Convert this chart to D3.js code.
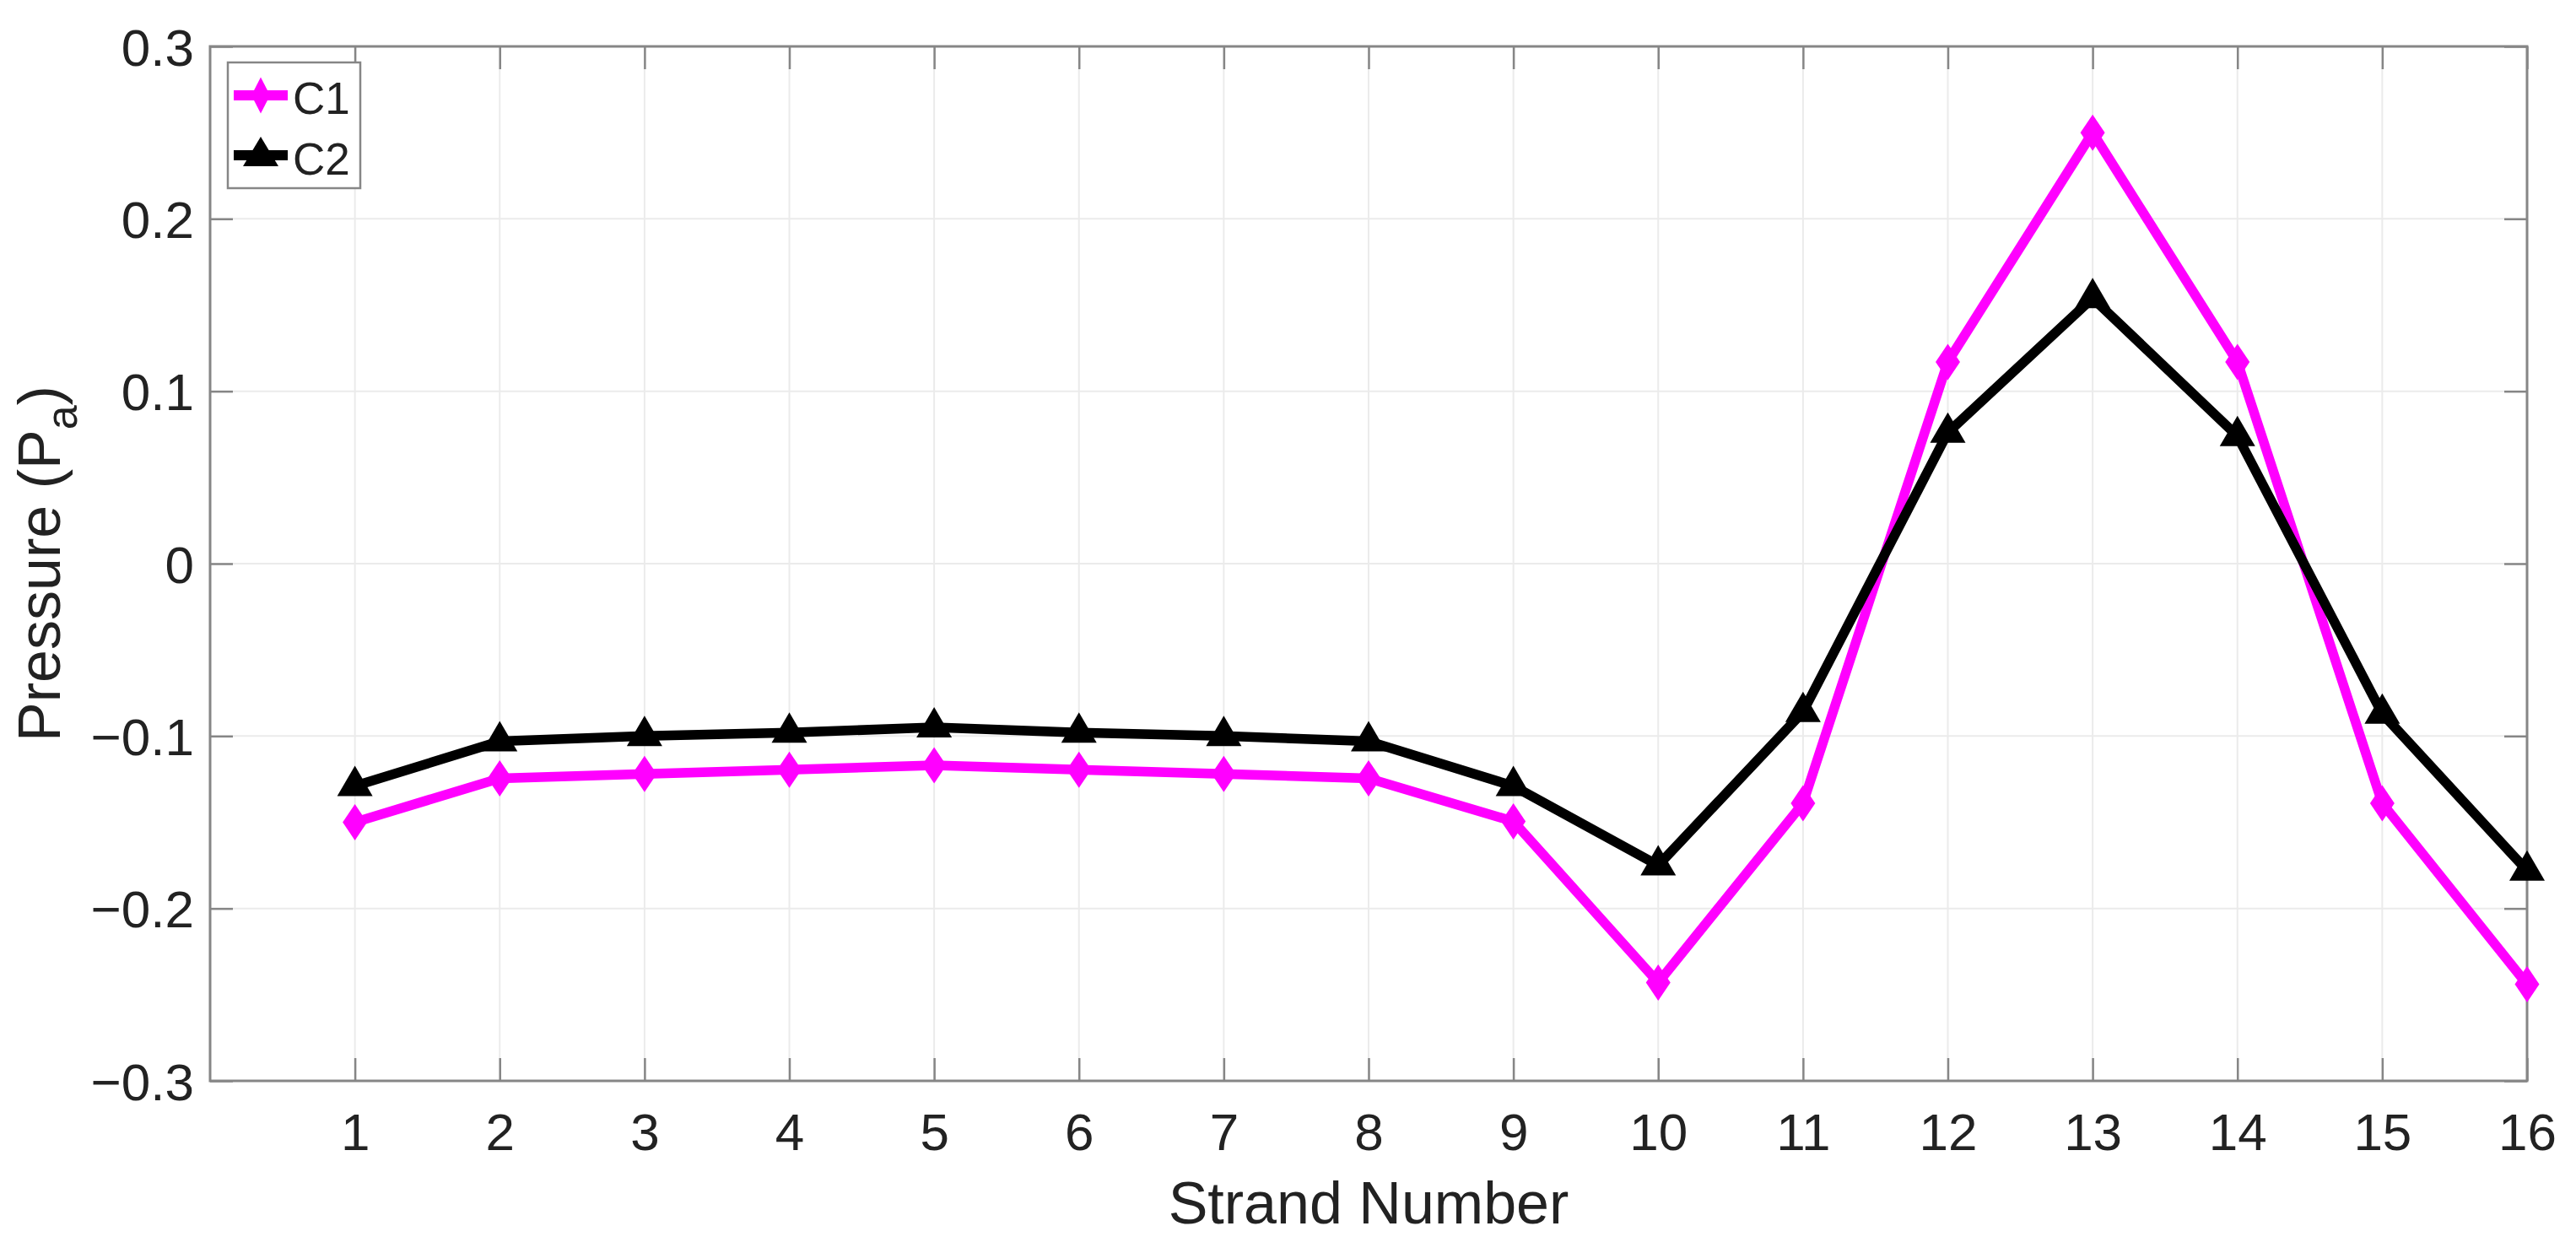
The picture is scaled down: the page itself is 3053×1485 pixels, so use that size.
<!DOCTYPE html>
<html>
<head>
<meta charset="utf-8">
<script src="https://cdn.jsdelivr.net/npm/d3@7"></script>
<style>
  html, body { margin: 0; padding: 0; background: #fff; }
  svg { display: block; }
  text { font-family: "Liberation Sans", Arial, Helvetica, sans-serif; fill: #222; }
</style>
</head>
<body>
<script>
// ---- data ----
const strands = [1, 2, 3, 4, 5, 6, 7, 8, 9, 10, 11, 12, 13, 14, 15, 16];
const c1Values = [-0.150, -0.1245, -0.122, -0.1195, -0.117, -0.1195, -0.122, -0.1245, -0.1495, -0.243, -0.139, 0.117, 0.250, 0.117, -0.139, -0.244];
const c2Values = [-0.129, -0.103, -0.100, -0.098, -0.095, -0.098, -0.100, -0.103, -0.129, -0.175, -0.086, 0.076, 0.154, 0.074, -0.087, -0.178];
const seriesNames = ["C1", "C2"];
const xTicks = strands;
const yTicks = [-0.3, -0.2, -0.1, 0, 0.1, 0.2, 0.3];
const xDomain = [0, 16];
const yDomain = [-0.3, 0.3];

// ---- layout ----
const W = 3053, H = 1485;
const L = 249, R = 2995, T = 55, B = 1281;
const axisColor = "#868686";
const gridColor = "#ebebeb";
const tickLen = 27;

const svg = d3.select("body").append("svg").attr("width", W).attr("height", H);
svg.append("rect").attr("width", W).attr("height", H).attr("fill", "#fff");

const x = d3.scaleLinear().domain(xDomain).range([L, R]);
const y = d3.scaleLinear().domain(yDomain).range([B, T]);

// grid
const grid = svg.append("g");
grid.selectAll("line.gx").data(xTicks).join("line")
  .attr("x1", d => x(d)).attr("x2", d => x(d)).attr("y1", T).attr("y2", B)
  .attr("stroke", gridColor).attr("stroke-width", 2);
grid.selectAll("line.gy").data(yTicks).join("line")
  .attr("x1", L).attr("x2", R).attr("y1", d => y(d)).attr("y2", d => y(d))
  .attr("stroke", gridColor).attr("stroke-width", 2);

// axes using d3 axis generators (inner ticks on all sides)
const fmtY = d => d === 0 ? "0" : (d < 0 ? "\u2212" : "") + Math.abs(d).toFixed(1);
function styleAxis(g) {
  g.select(".domain").remove();
  g.selectAll(".tick line").attr("stroke", axisColor).attr("stroke-width", 2.5);
  g.selectAll(".tick text").attr("font-size", 62).attr("fill", "#222")
    .style("font-family", '"Liberation Sans", Arial, Helvetica, sans-serif');
}
const gxB = svg.append("g").attr("transform", `translate(0,${B})`)
  .call(d3.axisBottom(x).tickValues(xTicks).tickSizeInner(-tickLen).tickSizeOuter(0).tickPadding(0).tickFormat(d3.format("d")));
styleAxis(gxB);
gxB.selectAll(".tick text").attr("dy", null).attr("y", 82);

const gxT = svg.append("g").attr("transform", `translate(0,${T})`)
  .call(d3.axisTop(x).tickValues(xTicks).tickSizeInner(-tickLen).tickSizeOuter(0).tickFormat(""));
styleAxis(gxT);

const gyL = svg.append("g").attr("transform", `translate(${L},0)`)
  .call(d3.axisLeft(y).tickValues(yTicks).tickSizeInner(-tickLen).tickSizeOuter(0).tickPadding(0).tickFormat(fmtY));
styleAxis(gyL);
gyL.selectAll(".tick text").attr("dy", null).attr("x", -19).attr("y", 22).attr("text-anchor", "end");

const gyR = svg.append("g").attr("transform", `translate(${R},0)`)
  .call(d3.axisRight(y).tickValues(yTicks).tickSizeInner(-tickLen).tickSizeOuter(0).tickFormat(""));
styleAxis(gyR);

// box
svg.append("rect").attr("x", L).attr("y", T).attr("width", R - L).attr("height", B - T)
  .attr("fill", "none").attr("stroke", axisColor).attr("stroke-width", 3);

// series
const diamondPath = (hw, hh) => `M0,${-hh}L${hw},0L0,${hh}L${-hw},0Z`;
const trianglePath = (hw, up, down) => `M0,${-up}L${hw},${down}L${-hw},${down}Z`;

const series = [
  { name: seriesNames[0], values: c1Values, color: "#ff00ff", marker: diamondPath(14.5, 21.5) },
  { name: seriesNames[1], values: c2Values, color: "#000000", marker: trianglePath(21, 24, 12) }
];

const line = d3.line().x((d, i) => x(strands[i])).y(d => y(d));
series.forEach(s => {
  svg.append("path").datum(s.values).attr("d", line)
    .attr("fill", "none").attr("stroke", s.color).attr("stroke-width", 11.5)
    .attr("stroke-linejoin", "round");
  svg.append("g").selectAll("path").data(s.values).join("path")
    .attr("transform", (d, i) => `translate(${x(strands[i])},${y(d)})`)
    .attr("d", s.marker).attr("fill", s.color);
});

// axis labels
svg.append("text").attr("x", (L + R) / 2).attr("y", 1450).attr("text-anchor", "middle")
  .attr("font-size", 70).text("Strand Number");

const yl = svg.append("text").attr("transform", `translate(71,${(T + B) / 2}) rotate(-90)`)
  .attr("text-anchor", "middle").attr("font-size", 70);
yl.append("tspan").text("Pressure (P");
yl.append("tspan").attr("font-size", 52).attr("dy", 20).text("a");
yl.append("tspan").attr("dy", -20).text(")");

// legend
const leg = svg.append("g");
leg.append("rect").attr("x", 270).attr("y", 74).attr("width", 157).attr("height", 149)
  .attr("fill", "#fff").attr("stroke", axisColor).attr("stroke-width", 2.5);
const legRows = [
  { s: series[0], cy: 113, ty: 135, marker: diamondPath(11, 21.5) },
  { s: series[1], cy: 184, ty: 207, marker: trianglePath(21, 22, 13) }
];
legRows.forEach(r => {
  leg.append("line").attr("x1", 277).attr("x2", 341).attr("y1", r.cy).attr("y2", r.cy)
    .attr("stroke", r.s.color).attr("stroke-width", 12);
  leg.append("path").attr("transform", `translate(309,${r.cy})`).attr("d", r.marker).attr("fill", r.s.color);
  leg.append("text").attr("x", 347).attr("y", r.ty).attr("font-size", 53).text(r.s.name);
});
</script>
</body>
</html>
